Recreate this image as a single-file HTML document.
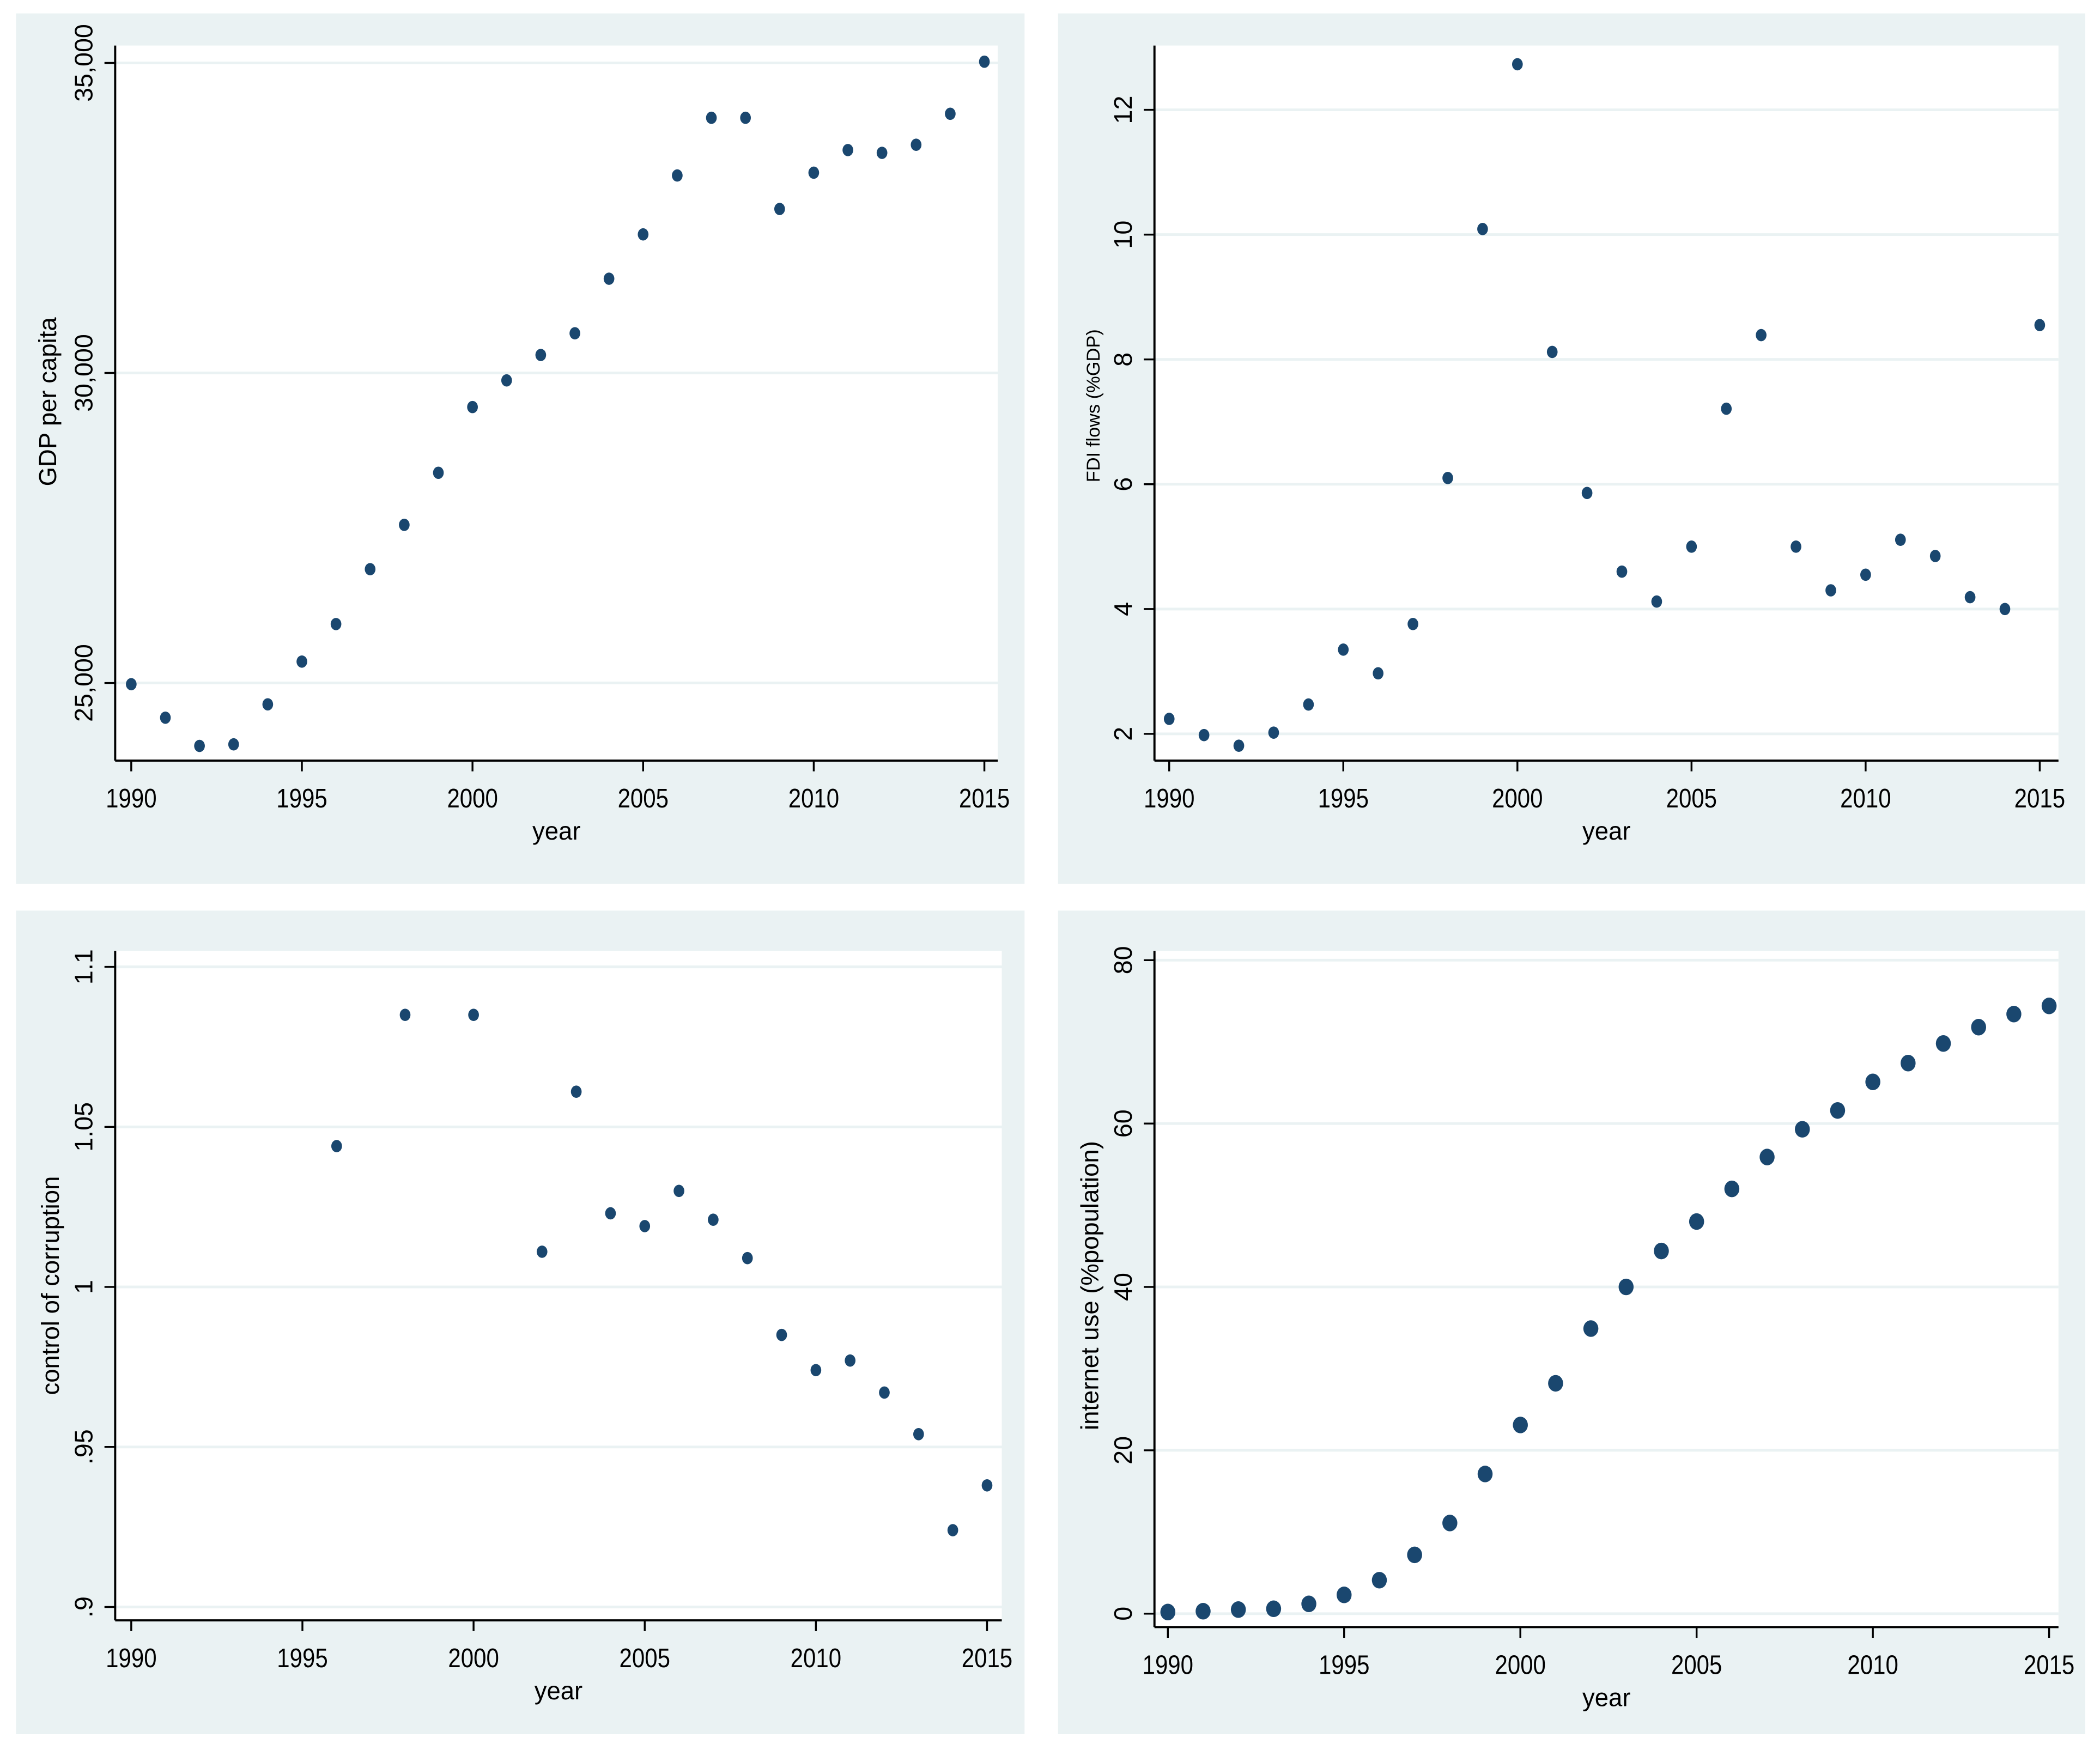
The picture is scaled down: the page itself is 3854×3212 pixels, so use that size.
<!DOCTYPE html>
<html><head><meta charset="utf-8"><style>
html,body{margin:0;padding:0;background:#fff;}
svg{display:block;}
text{font-family:"Liberation Sans",Arial,sans-serif;fill:#000;}
</style></head><body>
<svg id="chart" width="3854" height="3212" viewBox="0 0 1568 1306.8" preserveAspectRatio="none" xmlns="http://www.w3.org/2000/svg"></svg>
<script>
const years = [1990,1991,1992,1993,1994,1995,1996,1997,1998,1999,2000,2001,2002,2003,2004,2005,2006,2007,2008,2009,2010,2011,2012,2013,2014,2015];
const xTicks = [1990,1995,2000,2005,2010,2015];
const gdpValues = [24980,24440,23985,24010,24655,25345,25950,26835,27550,28390,29450,29880,30290,30640,31520,32235,33185,34115,34115,32645,33230,33595,33550,33680,34180,35020];
const gdpTicks = [25000,30000,35000];
const gdpTickLabels = ["25,000","30,000","35,000"];
const fdiValues = [2.24,1.98,1.81,2.02,2.47,3.35,2.97,3.76,6.1,10.09,12.73,8.12,5.86,4.6,4.12,5.0,7.21,8.39,5.0,4.3,4.55,5.11,4.85,4.19,4.0,8.55];
const fdiTicks = [2,4,6,8,10,12];
const fdiTickLabels = ["2","4","6","8","10","12"];
const corrYears = [1996,1998,2000,2002,2003,2004,2005,2006,2007,2008,2009,2010,2011,2012,2013,2014,2015];
const corrValues = [1.044,1.085,1.085,1.011,1.061,1.023,1.019,1.030,1.021,1.009,0.985,0.974,0.977,0.967,0.954,0.924,0.938];
const corrTicks = [0.9,0.95,1,1.05,1.1];
const corrTickLabels = [".9",".95","1","1.05","1.1"];
const netValues = [0.2,0.3,0.5,0.6,1.2,2.3,4.1,7.2,11.1,17.1,23.1,28.2,34.9,40.0,44.4,48.0,52.0,55.9,59.3,61.6,65.1,67.4,69.8,71.8,73.4,74.4];
const netTicks = [0,20,40,60,80];
const netTickLabels = ["0","20","40","60","80"];

const NS="http://www.w3.org/2000/svg";
const svg=document.getElementById('chart');
function mk(tag,attrs,parent){const e=document.createElementNS(NS,tag);for(const k in attrs)e.setAttribute(k,attrs[k]);(parent||svg).appendChild(e);return e;}

function panel(cfg){
  const g=mk('g',{});
  
  
  const bg=mk('rect',{x:cfg.bx0,y:cfg.by0,width:cfg.bx1-cfg.bx0,height:cfg.by1-cfg.by0,fill:'#eaf2f3'},g);
  
  
  const pa=mk('rect',{x:cfg.px0,y:cfg.py0,width:cfg.px1-cfg.px0,height:cfg.py1-cfg.py0,fill:'#ffffff'},g);
  
  
  const xs=v=>cfg.x1990+(v-1990)*(cfg.x2015-cfg.x1990)/25;
  const ys=v=>cfg.yA+(v-cfg.vA)*(cfg.yB-cfg.yA)/(cfg.vB-cfg.vA);
  cfg.yt.forEach((t,i)=>{
    const y=ys(t);
    const gl=mk('line',{x1:cfg.px0,x2:cfg.px1,y1:y,y2:y,stroke:'#eaf2f3','stroke-width':2},g);
    
    
    const tk=mk('line',{x1:cfg.px0-8,x2:cfg.px0,y1:y,y2:y,stroke:'#000','stroke-width':1.4},g);
    
    
    const tx=mk('text',{x:0,y:0,'font-size':19,'text-anchor':'middle',transform:`translate(${cfg.px0-17},${y}) rotate(-90)`},g);
    tx.textContent=cfg.ytl[i];
    
    
  });
  const ya=mk('line',{x1:cfg.px0,x2:cfg.px0,y1:cfg.py0,y2:cfg.py1,stroke:'#000','stroke-width':1.6},g);
  
  
  const xa=mk('line',{x1:cfg.px0,x2:cfg.px1,y1:cfg.py1,y2:cfg.py1,stroke:'#000','stroke-width':1.6},g);
  
  
  xTicks.forEach(t=>{
    const x=xs(t);
    const tk=mk('line',{x1:x,x2:x,y1:cfg.py1,y2:cfg.py1+8,stroke:'#000','stroke-width':1.4},g);
    
    
    const tx=mk('text',{x:x,y:cfg.py1+35,'font-size':20,'text-anchor':'middle',textLength:38,lengthAdjust:'spacingAndGlyphs'},g);
    tx.textContent=String(t);
    
    
  });
  const xt=mk('text',{x:(cfg.px0+cfg.px1)/2,y:cfg.py1+59,'font-size':19,'text-anchor':'middle',textLength:36,lengthAdjust:'spacingAndGlyphs'},g);
  xt.textContent='year';
  
  
  const yt=mk('text',{x:0,y:0,'font-size':cfg.tfs,'text-anchor':'middle',transform:`translate(${cfg.tx},${cfg.tyc}) rotate(-90)`},g);
  yt.textContent=cfg.title;
  
  
  cfg.xv.forEach((yr,i)=>{
    const p=mk('ellipse',{cx:xs(yr),cy:ys(cfg.vals[i]),rx:cfg.rx,ry:cfg.ry,fill:'#1a476f'},g);
    
    
  });
}

panel({name:'gdp-panel',bx0:12,by0:10,bx1:765,by1:660,px0:86,py0:34,px1:745,py1:568,x1990:98,x2015:735,
  vA:25000,yA:510,vB:35000,yB:47,yt:gdpTicks,ytl:gdpTickLabels,title:'GDP per capita',tfs:18.5,tx:42,tyc:300,
  xv:years,vals:gdpValues,rx:4,ry:4.6});
panel({name:'fdi-panel',bx0:790,by0:10,bx1:1557,by1:660,px0:862,py0:34,px1:1537,py1:568,x1990:873,x2015:1523,
  vA:2,yA:548,vB:12,yB:82,yt:fdiTicks,ytl:fdiTickLabels,title:'FDI flows (%GDP)',tfs:14,tx:821,tyc:303,
  xv:years,vals:fdiValues,rx:4,ry:4.6});
panel({name:'corruption-panel',bx0:12,by0:680,bx1:765,by1:1295,px0:86,py0:710,px1:748,py1:1210,x1990:98,x2015:737,
  vA:1,yA:961,vB:1.1,yB:722,yt:corrTicks,ytl:corrTickLabels,title:'control of corruption',tfs:18.5,tx:44,tyc:960,
  xv:corrYears,vals:corrValues,rx:4,ry:4.6});
panel({name:'internet-panel',bx0:790,by0:680,bx1:1557,by1:1295,px0:862,py0:710,px1:1537,py1:1215,x1990:872,x2015:1530,
  vA:0,yA:1205,vB:80,yB:717,yt:netTicks,ytl:netTickLabels,title:'internet use (%population)',tfs:18.5,tx:820,tyc:960,
  xv:years,vals:netValues,rx:5.6,ry:6.2});
</script>
</body></html>
